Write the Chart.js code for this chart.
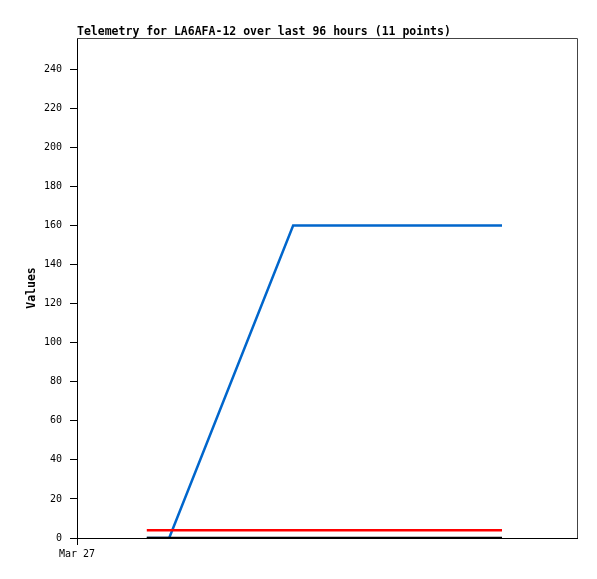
<!DOCTYPE html>
<html>
<head>
<meta charset="utf-8">
<script src="https://cdn.jsdelivr.net/npm/chart.js@4"></script>
<style>
  html, body { margin: 0; padding: 0; background: #fff; }
  #wrap { width: 597px; height: 579px; }
</style>
</head>
<body>
<div id="wrap"><canvas id="telemetryChart" width="597" height="579"></canvas></div>
<script>
// hours since Mar 27 00:00 (window is 96 hours)
const hours = [13.4, 17.7, 41.5, 46, 51, 56, 61, 66, 71, 76, 81.6];
const blueValues = [0, 0, 160, 160, 160, 160, 160, 160, 160, 160, 160];
const redValues = [4, 4, 4, 4, 4, 4, 4, 4, 4, 4, 4];
const blackValues = [0, 0, 0, 0, 0, 0, 0, 0, 0, 0, 0];
const yTicks = [0, 20, 40, 60, 80, 100, 120, 140, 160, 180, 200, 220, 240];
const xTickLabels = { 0: "Mar 27" };

const mono = "'DejaVu Sans Mono', 'Liberation Mono', monospace";

function pts(values) {
  return values.map((v, i) => ({ x: hours[i], y: v }));
}

// box around the plot area
const frame = {
  id: "frame",
  afterDraw(chart) {
    const a = chart.chartArea;
    const ctx = chart.ctx;
    ctx.save();
    ctx.strokeStyle = "#444";
    ctx.lineWidth = 1;
    ctx.beginPath();
    ctx.moveTo(a.left, a.top + 0.5);
    ctx.lineTo(a.right + 0.5, a.top + 0.5);
    ctx.lineTo(a.right + 0.5, a.bottom);
    ctx.stroke();
    ctx.restore();
  },
};

const ctx = document.getElementById("telemetryChart").getContext("2d");
new Chart(ctx, {
  type: "line",
  data: {
    datasets: [
      {
        label: "black",
        data: pts(blackValues),
        borderColor: "#000000",
        borderWidth: 2.5,
        pointRadius: 0,
        tension: 0,
      },
      {
        label: "red",
        data: pts(redValues),
        borderColor: "#ff0000",
        borderWidth: 2.5,
        pointRadius: 0,
        tension: 0,
      },
      {
        label: "blue",
        data: pts(blueValues),
        borderColor: "#0066cc",
        borderWidth: 2.5,
        pointRadius: 0,
        tension: 0,
      },
    ],
  },
  options: {
    responsive: false,
    animation: false,
    layout: { padding: { left: 0, right: 20, top: 0, bottom: 0 } },
    plugins: {
      legend: { display: false },
      tooltip: { enabled: false },
      title: {
        display: true,
        text: "Telemetry for LA6AFA-12 over last 96 hours (11 points)",
        align: "start",
        fullSize: false,
        color: "#000",
        font: { family: mono, size: 11.5, weight: "bold", lineHeight: 1 },
        padding: { top: 26, bottom: 0.5 },
      },
    },
    scales: {
      x: {
        type: "linear",
        min: 0,
        max: 96,
        afterBuildTicks: (s) => {
          s.ticks = Object.keys(xTickLabels).map((v) => ({ value: Number(v) }));
        },
        afterFit: (s) => {
          s.height = 41;
        },
        ticks: {
          callback: (v) => xTickLabels[v] || "",
          color: "#000",
          font: { family: mono, size: 10 },
          maxRotation: 0,
          padding: 3,
        },
        grid: {
          drawOnChartArea: false,
          drawTicks: true,
          tickLength: 7,
          color: "#000",
        },
        border: { color: "#000", width: 1 },
      },
      y: {
        min: 0,
        max: 256,
        afterBuildTicks: (s) => {
          s.ticks = yTicks.map((v) => ({ value: v }));
        },
        afterFit: (s) => {
          s.width = 77;
        },
        title: {
          display: true,
          text: "Values",
          color: "#000",
          font: { family: mono, size: 11.5, weight: "bold" },
          padding: { top: 25, bottom: 0 },
        },
        ticks: {
          color: "#000",
          font: { family: mono, size: 10 },
          padding: 8,
        },
        grid: {
          drawOnChartArea: false,
          drawTicks: true,
          tickLength: 7,
          color: "#000",
        },
        border: { color: "#000", width: 1 },
      },
    },
  },
  plugins: [frame],
});
</script>
</body>
</html>
